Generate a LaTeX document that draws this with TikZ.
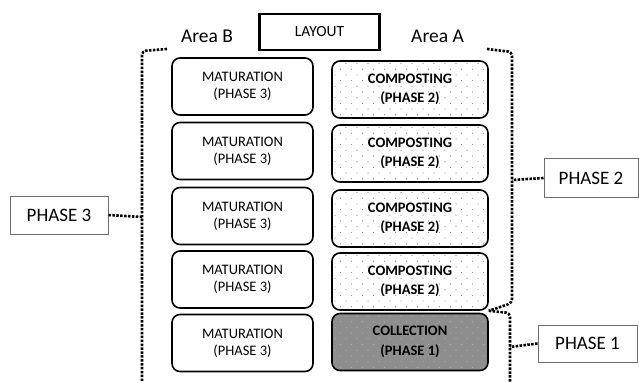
\documentclass[tikz,border=0pt]{standalone}
\usepackage{fontspec}
\setmainfont{Carlito}
\usetikzlibrary{calc}
\definecolor{framegray}{RGB}{110,110,110}
\definecolor{dotgray}{RGB}{140,140,140}
\definecolor{collectfill}{RGB}{142,142,142}
\definecolor{collectdot}{RGB}{175,175,175}
\tikzset{
  cell/.style={draw=black, line width=1.6pt, rounded corners=8pt, inner sep=0pt,
    align=center, font=\fontsize{14.5}{17}\selectfont},
  matbox/.style={cell, minimum width=141pt, minimum height=57pt},
  dotted fill/.style={path picture={
    \foreach \i in {0,...,11}{\foreach \j in {0,...,15}{
      \fill[#1] ($(path picture bounding box.north west)+({\j*11+mod(\i,2)*5.5+3},{\i*5.7+2.5})$) circle[radius=0.6pt];
    }}}},
  compbox/.style={cell, minimum width=156pt, minimum height=57pt,
    font=\fontsize{14.5}{19.5}\selectfont\bfseries, dotted fill=dotgray},
  collbox/.style={compbox, fill=collectfill, dotted fill=collectdot},
  phasebox/.style={draw=framegray, line width=1pt, inner sep=0pt,
    font=\fontsize{19}{22}\selectfont},
  arealabel/.style={font=\fontsize{19.5}{22}\selectfont},
  bracket/.style={line width=2.6pt, dash pattern=on 2.5pt off 1.4pt, rounded corners=4pt},
}
\begin{document}
\begin{tikzpicture}[x=1pt, y=-1pt]
\useasboundingbox (0,0) rectangle (639,382);

% title and column headings
\node[draw=black, line width=2.6pt, minimum width=120pt, minimum height=36pt,
  inner sep=0pt, font=\fontsize{15.5}{17}\selectfont] (layout) at (319.5,32) {\raisebox{1.5pt}{LAYOUT}};
\node[arealabel] (areaB) at (207,36) {Area B};
\node[arealabel] (areaA) at (437.5,36) {Area A};

% Area B: maturation cells
\node[matbox] (m1) at (242.5,86.5)  {MATURATION\\(PHASE 3)};
\node[matbox] (m2) at (242.5,151)   {MATURATION\\(PHASE 3)};
\node[matbox] (m3) at (242.5,216)   {MATURATION\\(PHASE 3)};
\node[matbox] (m4) at (242.5,279.5) {MATURATION\\(PHASE 3)};
\node[matbox] (m5) at (242.5,343)   {MATURATION\\(PHASE 3)};

% Area A: composting and collection cells
\node[compbox] (c1) at (410,89.5)  {COMPOSTING\\(PHASE 2)};
\node[compbox] (c2) at (410,153.5) {COMPOSTING\\(PHASE 2)};
\node[compbox] (c3) at (410,218.5) {COMPOSTING\\(PHASE 2)};
\node[compbox] (c4) at (410,281.5) {COMPOSTING\\(PHASE 2)};
\node[collbox] (col) at (410,342)  {COLLECTION\\(PHASE 1)};

% phase labels
\node[phasebox, minimum width=98pt, minimum height=38pt] (p3) at (59,215)   {PHASE 3};
\node[phasebox, minimum width=94pt, minimum height=38pt] (p2) at (591,178)  {PHASE 2};
\node[phasebox, minimum width=99pt, minimum height=37pt] (p1) at (587.5,343.5) {PHASE 1};

% brackets grouping the cells
\coordinate (lj) at (142,217);
\coordinate (uj) at (512,180);
\coordinate (bj) at (510,347);
\draw[bracket] (167,49) -- (142,51) -- (lj) -- (142,381);
\draw[bracket] (487,49) -- (512,52) -- (uj) -- (512,303) -- (c4.south east);
\draw[bracket] (c4.south east) -- (510,313) -- (bj) -- (510,382);

% connectors from labels to brackets
\draw[bracket] (p3.east) -- (lj);
\draw[bracket] (p2.west) -- (uj);
\draw[bracket] (p1.west) -- (bj);
\end{tikzpicture}
\end{document}
